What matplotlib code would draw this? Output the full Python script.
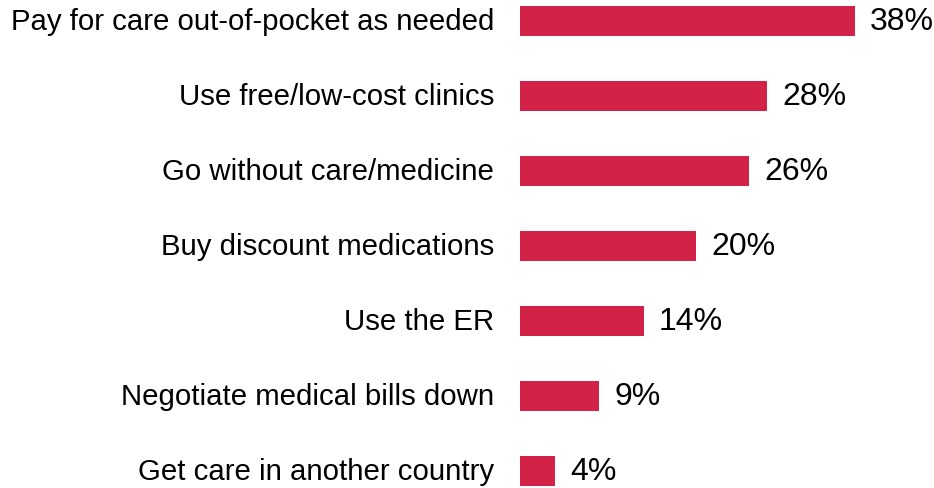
import matplotlib
matplotlib.use("Agg")
import matplotlib.pyplot as plt

labels = ["Pay for care out-of-pocket as needed", "Use free/low-cost clinics",
          "Go without care/medicine", "Buy discount medications", "Use the ER",
          "Negotiate medical bills down", "Get care in another country"]
values = [38, 28, 26, 20, 14, 9, 4]

plt.rcParams['font.family'] = ['Liberation Sans', 'DejaVu Sans']

fig = plt.figure(figsize=(9.34, 4.89), dpi=100)
ax = fig.add_axes([520 / 934, 0, 397 / 934, 1])

ypos = list(range(len(labels)))
ax.barh(ypos, values, height=0.4, color='#D22247')
ax.set_xlim(0, 45)
ax.set_ylim(6.227, -0.293)

for y, lab, v in zip(ypos, labels, values):
    ax.annotate(lab, (0, y), xytext=(-26, 0), textcoords='offset pixels',
                ha='right', va='center', fontsize=21.2, color='black', annotation_clip=False)
    ax.annotate(f"{v}%", (v, y), xytext=(15, 0), textcoords='offset pixels',
                ha='left', va='center', fontsize=23, color='black', annotation_clip=False)

ax.axis('off')
fig.savefig("out.png", dpi=100)
